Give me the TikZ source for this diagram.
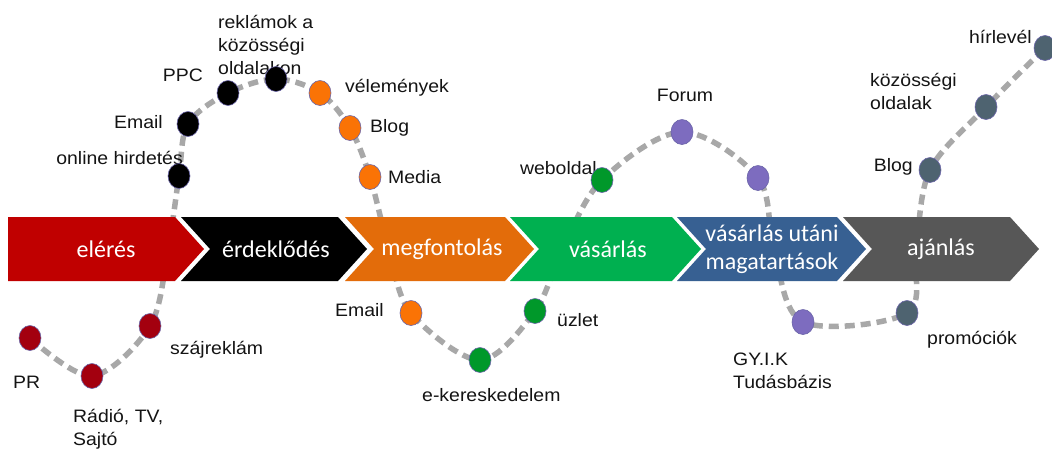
\documentclass[tikz,border=0pt]{standalone}
\usepackage{fontspec}
\setmainfont{Liberation Sans}
\newfontfamily\lblfont{Liberation Sans}[FakeStretch=1.08]
\newfontfamily\bandfont{Carlito}
\usetikzlibrary{shapes.geometric}
\definecolor{bRed}{HTML}{C00000}
\definecolor{bBlack}{HTML}{000000}
\definecolor{bOrange}{HTML}{E36C0A}
\definecolor{bGreen}{HTML}{00B050}
\definecolor{bBlue}{HTML}{376092}
\definecolor{bGray}{HTML}{575757}
\definecolor{dRed}{HTML}{A3000F}
\definecolor{dBlack}{HTML}{000000}
\definecolor{dOrange}{HTML}{FA7305}
\definecolor{dGreen}{HTML}{00982A}
\definecolor{dPurple}{HTML}{7D6CBF}
\definecolor{dSlate}{HTML}{4E6370}
\definecolor{trailgray}{HTML}{A8A8A8}
\definecolor{labelc}{HTML}{141414}
\definecolor{dotline}{HTML}{6A64A8}
\tikzset{
  trail/.style={draw=trailgray, line width=5.5pt, dash pattern=on 10pt off 6pt, line cap=butt},
  dot/.style={ellipse, fill=#1, draw=dotline, line width=0.6pt, minimum width=22pt, minimum height=25pt, inner sep=0pt},
  lbl/.style={font=\lblfont\fontsize{18}{23}\selectfont, text=labelc, inner sep=0pt, align=left},
  bandtext/.style={font=\bandfont\fontsize{24}{28}\selectfont, text=white, inner sep=0pt, align=center},
}
\begin{document}
\begin{tikzpicture}[x=1pt,y=-1pt]
\useasboundingbox (0,0) rectangle (1052,450);
\fill[white] (0,0) rectangle (1052,450);
% path coordinates
\coordinate (p1) at (30,338);
\coordinate (p2) at (92,376);
\coordinate (p3) at (150,326);
\coordinate (w1) at (168,250);
\coordinate (p4) at (179,176);
\coordinate (p5) at (188,124);
\coordinate (p6) at (228,93);
\coordinate (p7) at (276,79);
\coordinate (p8) at (320,93);
\coordinate (p9) at (350,128);
\coordinate (p10) at (370,177);
\coordinate (w2) at (389,250);
\coordinate (p11) at (411,313);
\coordinate (p12) at (480,360);
\coordinate (p13) at (535,311);
\coordinate (w3) at (562,250);
\coordinate (p14) at (602,180);
\coordinate (p15) at (682,132);
\coordinate (p16) at (758,178);
\coordinate (w4) at (774,250);
\coordinate (p17) at (803,322);
\coordinate (p18) at (907,313);
\coordinate (w5) at (916,250);
\coordinate (p19) at (930,170);
\coordinate (p20) at (986,107);
\coordinate (p21) at (1045,48);
% dashed trail
\draw[trail] plot[smooth, tension=0.55] coordinates {(p1) (p2) (p3) (w1) (p4) (p5) (p6) (p7) (p8) (p9) (p10) (w2) (p11) (p12) (p13) (w3) (p14) (p15) (p16) (w4) (p17) (p18) (w5) (p19) (p20) (p21)};
% band
\fill[bRed] (8,217) -- (175,217) -- (204,249) -- (175,281) -- (8,281) -- cycle;
\fill[bBlack] (181,217) -- (338,217) -- (367,249) -- (338,281) -- (181,281) -- (210,249) -- cycle;
\fill[bOrange] (345,217) -- (505,217) -- (534,249) -- (505,281) -- (345,281) -- (374,249) -- cycle;
\fill[bGreen] (510,217) -- (672,217) -- (701,249) -- (672,281) -- (510,281) -- (539,249) -- cycle;
\fill[bBlue] (677,217) -- (837,217) -- (866,249) -- (837,281) -- (677,281) -- (706,249) -- cycle;
\fill[bGray] (843,217) -- (1010,217) -- (1039,249) -- (1010,281) -- (843,281) -- (872,249) -- cycle;
\node[bandtext] (s1) at (106,249) {elérés};
\node[bandtext] (s2) at (276,249) {érdeklődés};
\node[bandtext] (s3) at (442,249) {megfontolás};
\node[bandtext] (s4) at (608,249) {vásárlás};
\node[bandtext] (s5) at (772,249) {vásárlás utáni\\magatartások};
\node[bandtext] (s6) at (941,249) {ajánlás};
% labels
\node[lbl, anchor=west] (l1) at (13,382) {PR};
\node[lbl, anchor=west] (l2) at (73,429) {Rádió, TV,\\Sajtó};
\node[lbl, anchor=west] (l3) at (170,350) {szájreklám};
\node[lbl, anchor=east] (l4) at (183,158) {online hirdetés};
\node[lbl, anchor=east] (l5) at (163,122) {Email};
\node[lbl, anchor=east] (l6) at (203,75) {PPC};
\node[lbl, anchor=west] (l7) at (218,45) {reklámok a\\közösségi\\oldalakon};
\node[lbl, anchor=west] (l8) at (345,88) {vélemények};
\node[lbl, anchor=west] (l9) at (370,128) {Blog};
\node[lbl, anchor=west] (l10) at (388,177) {Media};
\node[lbl, anchor=east] (l11) at (384,310) {Email};
\node[lbl, anchor=west] (l12) at (422,395) {e-kereskedelem};
\node[lbl, anchor=west] (l13) at (557,320) {üzlet};
\node[lbl, anchor=east] (l14) at (597,168) {weboldal};
\node[lbl] (l15) at (685,95) {Forum};
\node[lbl, anchor=west] (l17) at (733,371) {GY.I.K\\Tudásbázis};
\node[lbl, anchor=west] (l18) at (927,340) {promóciók};
\node[lbl, anchor=east] (l19) at (913,167) {Blog};
\node[lbl, anchor=west] (l20) at (870,91) {közösségi\\oldalak};
\node[lbl, anchor=east] (l21) at (1032,37) {hírlevél};
% dots
\node[dot=dRed] (d1) at (p1) {};
\node[dot=dRed] (d2) at (p2) {};
\node[dot=dRed] (d3) at (p3) {};
\node[dot=dBlack] (d4) at (p4) {};
\node[dot=dBlack] (d5) at (p5) {};
\node[dot=dBlack] (d6) at (p6) {};
\node[dot=dBlack] (d7) at (p7) {};
\node[dot=dOrange] (d8) at (p8) {};
\node[dot=dOrange] (d9) at (p9) {};
\node[dot=dOrange] (d10) at (p10) {};
\node[dot=dOrange] (d11) at (p11) {};
\node[dot=dGreen] (d12) at (p12) {};
\node[dot=dGreen] (d13) at (p13) {};
\node[dot=dGreen] (d14) at (p14) {};
\node[dot=dPurple] (d15) at (p15) {};
\node[dot=dPurple] (d16) at (p16) {};
\node[dot=dPurple] (d17) at (p17) {};
\node[dot=dSlate] (d18) at (p18) {};
\node[dot=dSlate] (d19) at (p19) {};
\node[dot=dSlate] (d20) at (p20) {};
\node[dot=dSlate] (d21) at (p21) {};
\end{tikzpicture}
\end{document}
